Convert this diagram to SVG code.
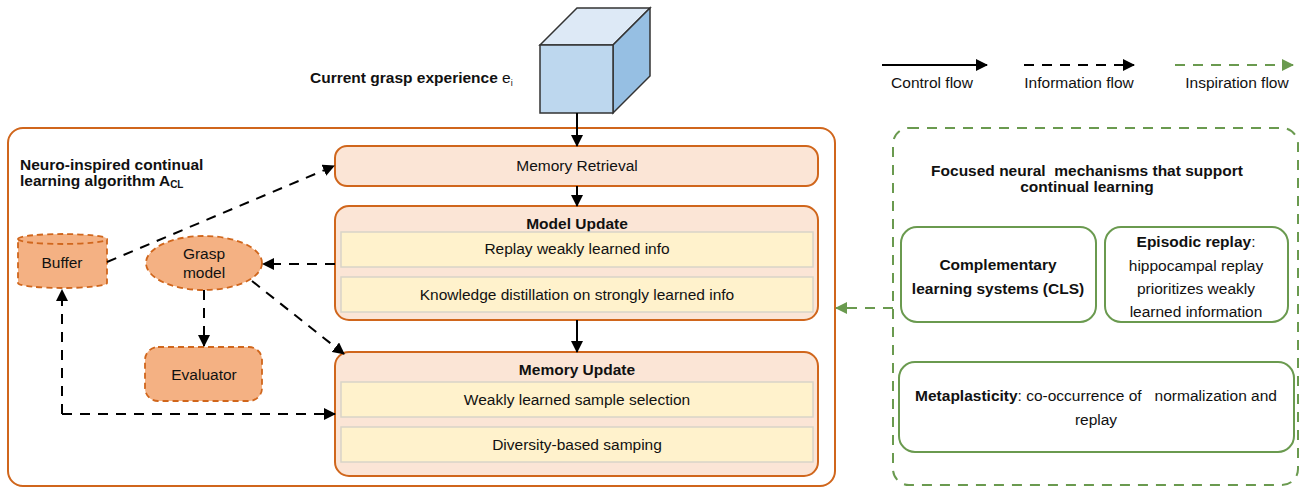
<svg xmlns="http://www.w3.org/2000/svg" width="1301" height="488" viewBox="0 0 1301 488">
  <style>
    text { font-family: "Liberation Sans", Arial, sans-serif; font-size: 15.5px; fill: #111; white-space: pre; }
    .b { font-weight: bold; }
    .c { text-anchor: middle; }
    .stage { fill: #fbe5d6; stroke: #d0661c; stroke-width: 2; }
    .row { fill: #fff2cc; stroke: #d9d4c8; stroke-width: 1.5; }
    .orng { fill: #f4b183; stroke: #d0661c; stroke-width: 1.8; stroke-dasharray: 6 4; }
    .ctl { stroke: #000; stroke-width: 2; fill: none; }
    .info { stroke: #000; stroke-width: 2; fill: none; stroke-dasharray: 10 8; }
    .insp { stroke: #6a9a4f; stroke-width: 2; fill: none; stroke-dasharray: 10 8; }
    .gbox { fill: #fff; stroke: #6a9a4f; stroke-width: 2; }
  </style>
  <defs>
    <marker id="ah" viewBox="0 0 12 12" refX="11" refY="6" markerWidth="12" markerHeight="12" markerUnits="userSpaceOnUse" orient="auto">
      <path d="M0,0 L12,6 L0,12 Z" fill="#000"/>
    </marker>
    <marker id="ahg" viewBox="0 0 12 12" refX="11" refY="6" markerWidth="12" markerHeight="12" markerUnits="userSpaceOnUse" orient="auto">
      <path d="M0,0 L12,6 L0,12 Z" fill="#6a9a4f"/>
    </marker>
  </defs>

  <!-- legend -->
  <g id="legend">
    <line class="ctl" x1="882" y1="65" x2="987" y2="65" marker-end="url(#ah)"/>
    <text class="c" x="932" y="88">Control flow</text>
    <line class="info" x1="1024" y1="65" x2="1134" y2="65" marker-end="url(#ah)"/>
    <text class="c" x="1079" y="88">Information flow</text>
    <line class="insp" x1="1175" y1="65" x2="1293" y2="65" marker-end="url(#ahg)"/>
    <text class="c" x="1237" y="88">Inspiration flow</text>
  </g>

  <!-- incoming experience -->
  <g id="experience">
    <polygon points="540,45 577,8 650,8 613,45" fill="#dde9f6" stroke="#333" stroke-width="1.5"/>
    <polygon points="613,45 650,8 650,76 613,113" fill="#96bfe3" stroke="#333" stroke-width="1.5"/>
    <rect x="540" y="45" width="73" height="68" fill="#bdd7ee" stroke="#333" stroke-width="1.5"/>
    <text class="b" x="310" y="83">Current grasp experience <tspan font-weight="normal">e</tspan><tspan font-weight="normal" font-size="9" dy="3">i</tspan></text>
  </g>

  <!-- algorithm container -->
  <g id="algorithm">
    <rect x="8" y="128" width="827" height="358" rx="15" fill="#fff" stroke="#d0661c" stroke-width="2"/>
    <text class="b" x="20" y="170">Neuro-inspired continual</text>
    <text class="b" x="20" y="186">learning algorithm A<tspan font-size="10" dy="2">CL</tspan></text>
  </g>

  <g id="memory-retrieval">
    <rect class="stage" x="335" y="146" width="483" height="40" rx="12"/>
    <text class="c" x="577" y="171">Memory Retrieval</text>
  </g>

  <g id="model-update">
    <rect class="stage" x="335" y="206" width="483" height="114" rx="14"/>
    <text class="c b" x="577" y="229">Model Update</text>
    <rect class="row" x="341" y="232" width="472" height="35"/>
    <text class="c" x="577" y="254">Replay weakly learned info</text>
    <rect class="row" x="341" y="277" width="472" height="35"/>
    <text class="c" x="577" y="300">Knowledge distillation on strongly learned info</text>
  </g>

  <g id="memory-update">
    <rect class="stage" x="335" y="352" width="483" height="124" rx="14"/>
    <text class="c b" x="577" y="375">Memory Update</text>
    <rect class="row" x="341" y="382" width="472" height="35"/>
    <text class="c" x="577" y="405">Weakly learned sample selection</text>
    <rect class="row" x="341" y="427" width="472" height="35"/>
    <text class="c" x="577" y="450">Diversity-based samping</text>
  </g>

  <g id="buffer">
    <path class="orng" d="M18,239 A44.5,5 0 0 1 107,239 L107,283 A44.5,5 0 0 1 18,283 Z"/>
    <path class="orng" d="M18,239 A44.5,5 0 0 0 107,239" fill="none"/>
    <text class="c" x="62" y="268">Buffer</text>
  </g>

  <g id="grasp-model">
    <ellipse class="orng" cx="204" cy="263" rx="58" ry="27"/>
    <text class="c" x="204" y="259">Grasp</text>
    <text class="c" x="204" y="278">model</text>
  </g>

  <g id="evaluator">
    <rect class="orng" x="145" y="347" width="117" height="54" rx="13"/>
    <text class="c" x="204" y="380">Evaluator</text>
  </g>

  <!-- neural mechanisms panel -->
  <g id="mechanisms">
    <rect x="893" y="128" width="405" height="357" rx="16" fill="#fff" stroke="#6a9a4f" stroke-width="2" stroke-dasharray="10 8"/>
    <text class="c b" x="1087" y="176">Focused neural  mechanisms that support</text>
    <text class="c b" x="1087" y="192">continual learning</text>
  </g>

  <g id="cls">
    <rect class="gbox" x="901" y="227" width="195" height="95" rx="16"/>
    <text class="c b" x="998" y="270">Complementary</text>
    <text class="c b" x="998" y="294">learning systems (CLS)</text>
  </g>

  <g id="episodic-replay">
    <rect class="gbox" x="1105" y="227" width="183" height="95" rx="16"/>
    <text class="c" x="1196" y="247"><tspan class="b">Episodic replay</tspan>:</text>
    <text class="c" x="1196" y="271">hippocampal replay</text>
    <text class="c" x="1196" y="294">prioritizes weakly</text>
    <text class="c" x="1196" y="317">learned information</text>
  </g>

  <g id="metaplasticity">
    <rect class="gbox" x="899" y="362" width="395" height="90" rx="16"/>
    <text class="c" x="1096" y="401"><tspan class="b">Metaplasticity</tspan>: co-occurrence of   normalization and</text>
    <text class="c" x="1096" y="425">replay</text>
  </g>

  <!-- connectors -->
  <g id="connectors">
    <line class="ctl" x1="577" y1="113" x2="577" y2="146" marker-end="url(#ah)"/>
    <line class="ctl" x1="577" y1="186" x2="577" y2="206" marker-end="url(#ah)"/>
    <line class="ctl" x1="577" y1="320" x2="577" y2="352" marker-end="url(#ah)"/>
    <line class="info" x1="107" y1="262" x2="334" y2="166" marker-end="url(#ah)"/>
    <line class="info" x1="335" y1="264" x2="263" y2="264" marker-end="url(#ah)"/>
    <line class="info" x1="252" y1="281" x2="344" y2="354" marker-end="url(#ah)"/>
    <line class="info" x1="204" y1="290" x2="204" y2="346" marker-end="url(#ah)"/>
    <path class="info" d="M62,414 L62,290" marker-end="url(#ah)"/>
    <path class="info" d="M62,414 L335,414" marker-end="url(#ah)"/>
    <line class="insp" x1="893" y1="308" x2="836" y2="308" marker-end="url(#ahg)"/>
  </g>
</svg>
